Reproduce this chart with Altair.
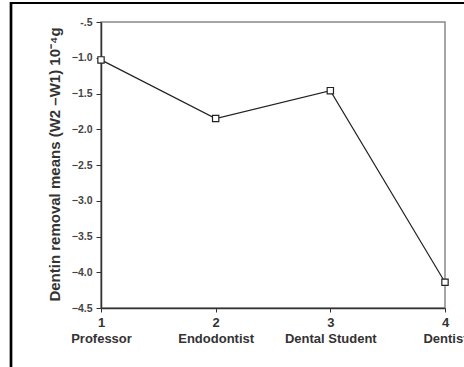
import altair as alt
import pandas as pd

# Mean dentin removal by operator group
groups = ["Professor", "Endodontist", "Dental Student", "Dentist"]
group_codes = [1, 2, 3, 4]
removal_means = [-1.03, -1.85, -1.46, -4.14]

y_ticks = [-0.5, -1.0, -1.5, -2.0, -2.5, -3.0, -3.5, -4.0, -4.5]

df = pd.DataFrame({"code": group_codes, "group": groups, "mean": removal_means})

FONT = "Liberation Sans"

label_expr = (
    "[format(datum.value, 'd'), "
    + "datum.value == 1 ? 'Professor' : datum.value == 2 ? 'Endodontist' : "
    + "datum.value == 3 ? 'Dental Student' : 'Dentist']"
)

x_enc = alt.X(
    "code:Q",
    scale=alt.Scale(domain=[1, 4], nice=False, zero=False),
    axis=alt.Axis(
        values=group_codes,
        labelExpr=label_expr,
        title=None,
        grid=False,
        domainColor="#333333",
        domainWidth=1.5,
        tickColor="#333333",
        tickSize=4,
        labelFont=FONT,
        labelFontWeight="bold",
        labelFontSize=13,
        labelColor="#333333",
        labelPadding=4,
        labelLineHeight=16,
        labelFlush=False,
        labelOverlap=False,
    ),
)

y_enc = alt.Y(
    "mean:Q",
    scale=alt.Scale(domain=[-4.5, -0.5], nice=False, zero=False),
    axis=alt.Axis(
        values=y_ticks,
        labelExpr="datum.value == -0.5 ? '-.5' : format(datum.value, '.1f')",
        title="Dentin removal means (W2 \u2013W1) 10\u207b\u2074g",
        titleFont=FONT,
        titleFontWeight="bold",
        titleFontSize=15,
        titleColor="#333333",
        titleAngle=270,
        titleX=-47,
        titleY=142,
        titleAlign="center",
        titleBaseline="middle",
        grid=False,
        domainColor="#333333",
        domainWidth=1.5,
        tickColor="#333333",
        tickSize=5,
        labelFont=FONT,
        labelFontWeight="bold",
        labelFontSize=10.5,
        labelColor="#444444",
        labelPadding=4,
        labelFlush=False,
        labelOverlap=False,
    ),
)

base = alt.Chart(df).encode(x=x_enc, y=y_enc)

line = base.mark_line(color="#222222", strokeWidth=1.2)

points = base.mark_point(
    shape="square", size=40, filled=True, fill="white", stroke="#222222", strokeWidth=1.2, opacity=1
)

# Outer figure frame (top and left edges)
frame_top = alt.Chart(df).mark_rule(color="black", strokeWidth=2.2).encode(
    x=alt.value(-91), x2=alt.value(400), y=alt.value(-19)
)
frame_left = alt.Chart(df).mark_rule(color="black", strokeWidth=2.2).encode(
    x=alt.value(-90), y=alt.value(-20), y2=alt.value(360)
)

chart = (
    alt.layer(line, points, frame_top, frame_left)
    .properties(
        width=344,
        height=286,
        padding={"left": 101, "top": 22, "right": 19, "bottom": 59},
        autosize=alt.AutoSizeParams(type="none"),
        background="white",
    )
    .configure_view(stroke="#888888", strokeWidth=1.5)
    .configure_axis(labelOverlap=False)
)

chart.save("out.html", embed_options={"renderer": "svg", "actions": False})
